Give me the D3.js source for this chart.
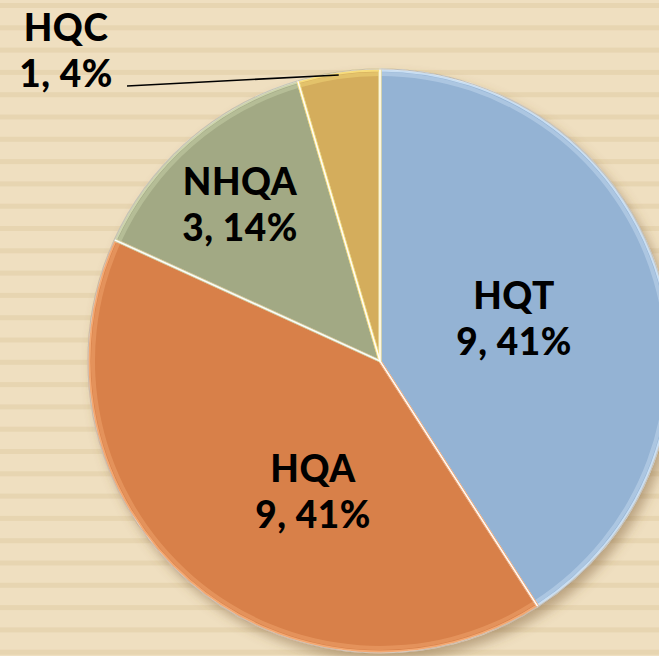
<!DOCTYPE html>
<html>
<head>
<meta charset="utf-8">
<script src="https://cdn.jsdelivr.net/npm/d3@7"></script>
<style>
  html, body { margin: 0; padding: 0; background: #efdfc0; }
  svg { display: block; }
</style>
</head>
<body>
<svg id="chart"></svg>
<script>
const categories = ['HQT', 'HQA', 'NHQA', 'HQC'];
const counts = [9, 9, 3, 1];
const percents = ['41%', '41%', '14%', '4%'];
const colors = ['#94b3d4', '#d8804a', '#a2a984', '#d4ad5c'];
const rims = ['#c9def2', '#f3a872', '#cdd4ad', '#f7dc7c'];

const width = 659, height = 656;
const cx = 380, cy = 361, radius = 292;

// label anchors (centre of the two-line block), tweaked by eye
const labelPos = [[514, 318], [313, 491], [240, 204], [66, 50]];

const svg = d3.select('#chart')
  .attr('width', width)
  .attr('height', height);

// background with horizontal stripes
svg.append('rect')
  .attr('width', width).attr('height', height)
  .attr('fill', '#efdfc0');
svg.append('g')
  .selectAll('rect')
  .data(d3.range(3, height, 22.3))
  .enter()
  .append('rect')
  .attr('x', 0).attr('y', d => d)
  .attr('width', width).attr('height', 5)
  .attr('fill', '#e7d5b1');

const defs = svg.append('defs');
const shadow = defs.append('filter')
  .attr('id', 'shadow')
  .attr('x', '-20%').attr('y', '-20%')
  .attr('width', '140%').attr('height', '140%');
shadow.append('feDropShadow')
  .attr('dx', 5).attr('dy', 7)
  .attr('stdDeviation', 6)
  .attr('flood-color', '#7a5a30')
  .attr('flood-opacity', 0.45);

const pie = d3.pie().sort(null).value(d => d.value);
const arcs = pie(categories.map((c, i) => ({ name: c, value: counts[i], i })));

const arc = d3.arc().innerRadius(0).outerRadius(radius);
const rimArc = d3.arc().innerRadius(radius - 7).outerRadius(radius - 3);

const g = svg.append('g')
  .attr('transform', `translate(${cx},${cy})`);

// slices
g.append('g')
  .attr('filter', 'url(#shadow)')
  .selectAll('path')
  .data(arcs)
  .enter()
  .append('path')
  .attr('d', arc)
  .attr('fill', d => colors[d.data.i]);

// bevel highlights just inside the rim
g.append('g')
  .selectAll('path')
  .data(arcs)
  .enter()
  .append('path')
  .attr('d', rimArc)
  .attr('fill', d => rims[d.data.i])
  .attr('opacity', 0.45);

// light seams between slices
g.append('g')
  .selectAll('path')
  .data(arcs)
  .enter()
  .append('path')
  .attr('d', d3.arc().innerRadius(0).outerRadius(radius - 1))
  .attr('fill', 'none')
  .attr('stroke', d => rims[d.data.i])
  .attr('stroke-width', 3)
  .attr('stroke-linejoin', 'round');

g.append('g')
  .selectAll('path')
  .data(arcs)
  .enter()
  .append('path')
  .attr('d', arc)
  .attr('fill', 'none')
  .attr('stroke', '#ffffff')
  .attr('stroke-opacity', 0.8)
  .attr('stroke-width', 1.2);

// darker outer edge
g.append('circle')
  .attr('r', radius)
  .attr('fill', 'none')
  .attr('stroke', '#6f6048')
  .attr('stroke-opacity', 0.35)
  .attr('stroke-width', 1.2);

// leader line for HQC
const hqc = arcs[3];
const midA = (hqc.startAngle + hqc.endAngle) / 2;
svg.append('line')
  .attr('x1', 127).attr('y1', 86)
  .attr('x2', cx + Math.sin(midA) * (radius - 2))
  .attr('y2', cy - Math.cos(midA) * (radius - 2) + 1)
  .attr('stroke', '#000')
  .attr('stroke-width', 1.6);

// labels
const labels = svg.append('g')
  .selectAll('text')
  .data(arcs)
  .enter()
  .append('text')
  .attr('text-anchor', 'middle')
  .attr('font-family', 'Lato, "DejaVu Sans", sans-serif')
  .attr('font-weight', 900)
  .attr('font-size', 37)
  .attr('letter-spacing', 0.5)
  .attr('fill', '#000')
  .attr('transform', d => `translate(${labelPos[d.data.i][0]},${labelPos[d.data.i][1]})`);

labels.append('tspan')
  .attr('x', 0).attr('y', -9)
  .text(d => d.data.name);
labels.append('tspan')
  .attr('x', 0).attr('y', 37)
  .text(d => `${d.data.value}, ${percents[d.data.i]}`);
</script>
</body>
</html>
